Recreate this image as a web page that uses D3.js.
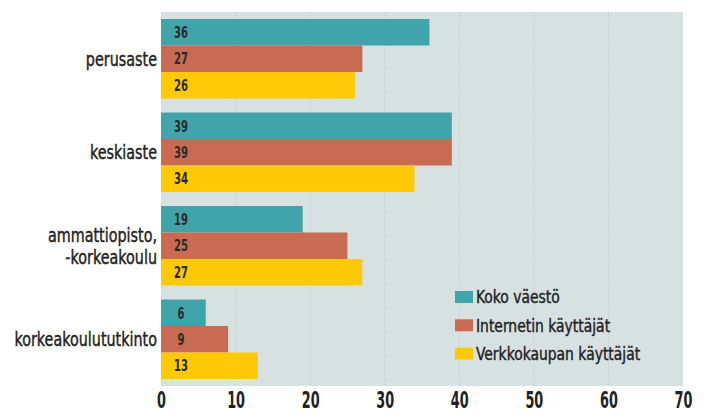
<!DOCTYPE html>
<html><head><meta charset="utf-8">
<script src="https://cdn.jsdelivr.net/npm/d3@7"></script>
<style>
body{margin:0;background:#fff;}
text{font-family:"DejaVu Sans Condensed","DejaVu Sans",sans-serif;font-stretch:condensed;}
</style></head>
<body><svg id="c" width="707" height="419"></svg>
<script>
const categories = [["perusaste"],["keskiaste"],["ammattiopisto,","-korkeakoulu"],["korkeakoulututkinto"]];
const seriesNames = ["Koko väestö","Internetin käyttäjät","Verkkokaupan käyttäjät"];
const kokoVaesto = [36,39,19,6];
const internetin = [27,39,25,9];
const verkkokaupan = [26,34,27,13];
const xTicks = [0,10,20,30,40,50,60,70];
const colors = ["#42a4ab","#c96a52","#ffc907"];

(function(){
const series = [kokoVaesto, internetin, verkkokaupan];
const svg = d3.select("#c");
const pL = 161, pR = 683, pT = 12, pB = 386;
const x = d3.scaleLinear().domain([0,70]).range([pL,pR]);
const y = d3.scaleBand().domain(d3.range(categories.length)).range([pT,pB]).paddingInner(0.15).paddingOuter(0.075);
const y1 = d3.scaleBand().domain(d3.range(series.length)).range([0,y.bandwidth()]);
const squeeze = (ax,k)=>`translate(${ax},0) scale(${k},1) translate(${-ax},0)`;

svg.append("rect").attr("x",pL).attr("y",pT).attr("width",pR-pL).attr("height",pB-pT).attr("fill","#d8e1e2");
svg.append("g").selectAll("line").data(xTicks.slice(1,-1)).join("line")
  .attr("x1",d=>x(d)).attr("x2",d=>x(d)).attr("y1",pT).attr("y2",pB)
  .attr("stroke","#b9c4c6").attr("stroke-width",1).attr("stroke-dasharray","1,2");

const g = svg.append("g");
categories.forEach((c,i)=>{
  series.forEach((s,j)=>{
    const yy = y(i)+y1(j);
    g.append("rect").attr("x",x(0)).attr("y",yy).attr("width",x(s[i])-x(0)).attr("height",y1.bandwidth()).attr("fill",colors[j]);
    const lx = x(0)+20;
    g.append("text").attr("x",lx).attr("y",yy+y1.bandwidth()/2).attr("dy","0.36em")
      .attr("transform",squeeze(lx,0.7))
      .attr("text-anchor","middle").attr("font-size",16).attr("font-weight","bold").attr("fill","#2a2a2a").text(s[i]);
  });
  const cy = y(i)+y.bandwidth()/2;
  const t = svg.append("text").attr("text-anchor","end").attr("font-size",19).attr("fill","#222")
    .attr("stroke","#222").attr("stroke-width",0.4)
    .attr("transform",squeeze(157,0.84));
  c.forEach((line,k)=>{
    t.append("tspan").attr("x",157).attr("y",cy + (k-(c.length-1)/2)*22).attr("dy","0.36em").text(line);
  });
});

const xAxis = d3.axisBottom(x).tickValues(xTicks).tickSize(0).tickPadding(6);
const ax = svg.append("g").attr("transform",`translate(0,${pB})`).call(xAxis);
ax.select(".domain").remove();
ax.selectAll("text").attr("font-size",23).attr("font-weight","bold").attr("fill","#222")
  .attr("transform","scale(0.62,1)")
  .style("font-family",'"DejaVu Sans Condensed","DejaVu Sans",sans-serif');

const leg = svg.append("g");
seriesNames.forEach((n,j)=>{
  const ly = 297 + j*28.3;
  leg.append("rect").attr("x",455).attr("y",ly-6).attr("width",18).attr("height",12).attr("fill",colors[j]);
  leg.append("text").attr("x",476).attr("y",ly).attr("dy","0.36em").attr("font-size",18).attr("fill","#222")
    .attr("stroke","#222").attr("stroke-width",0.4)
    .attr("transform",squeeze(476,0.86)).text(n);
});
})();
</script></body></html>
